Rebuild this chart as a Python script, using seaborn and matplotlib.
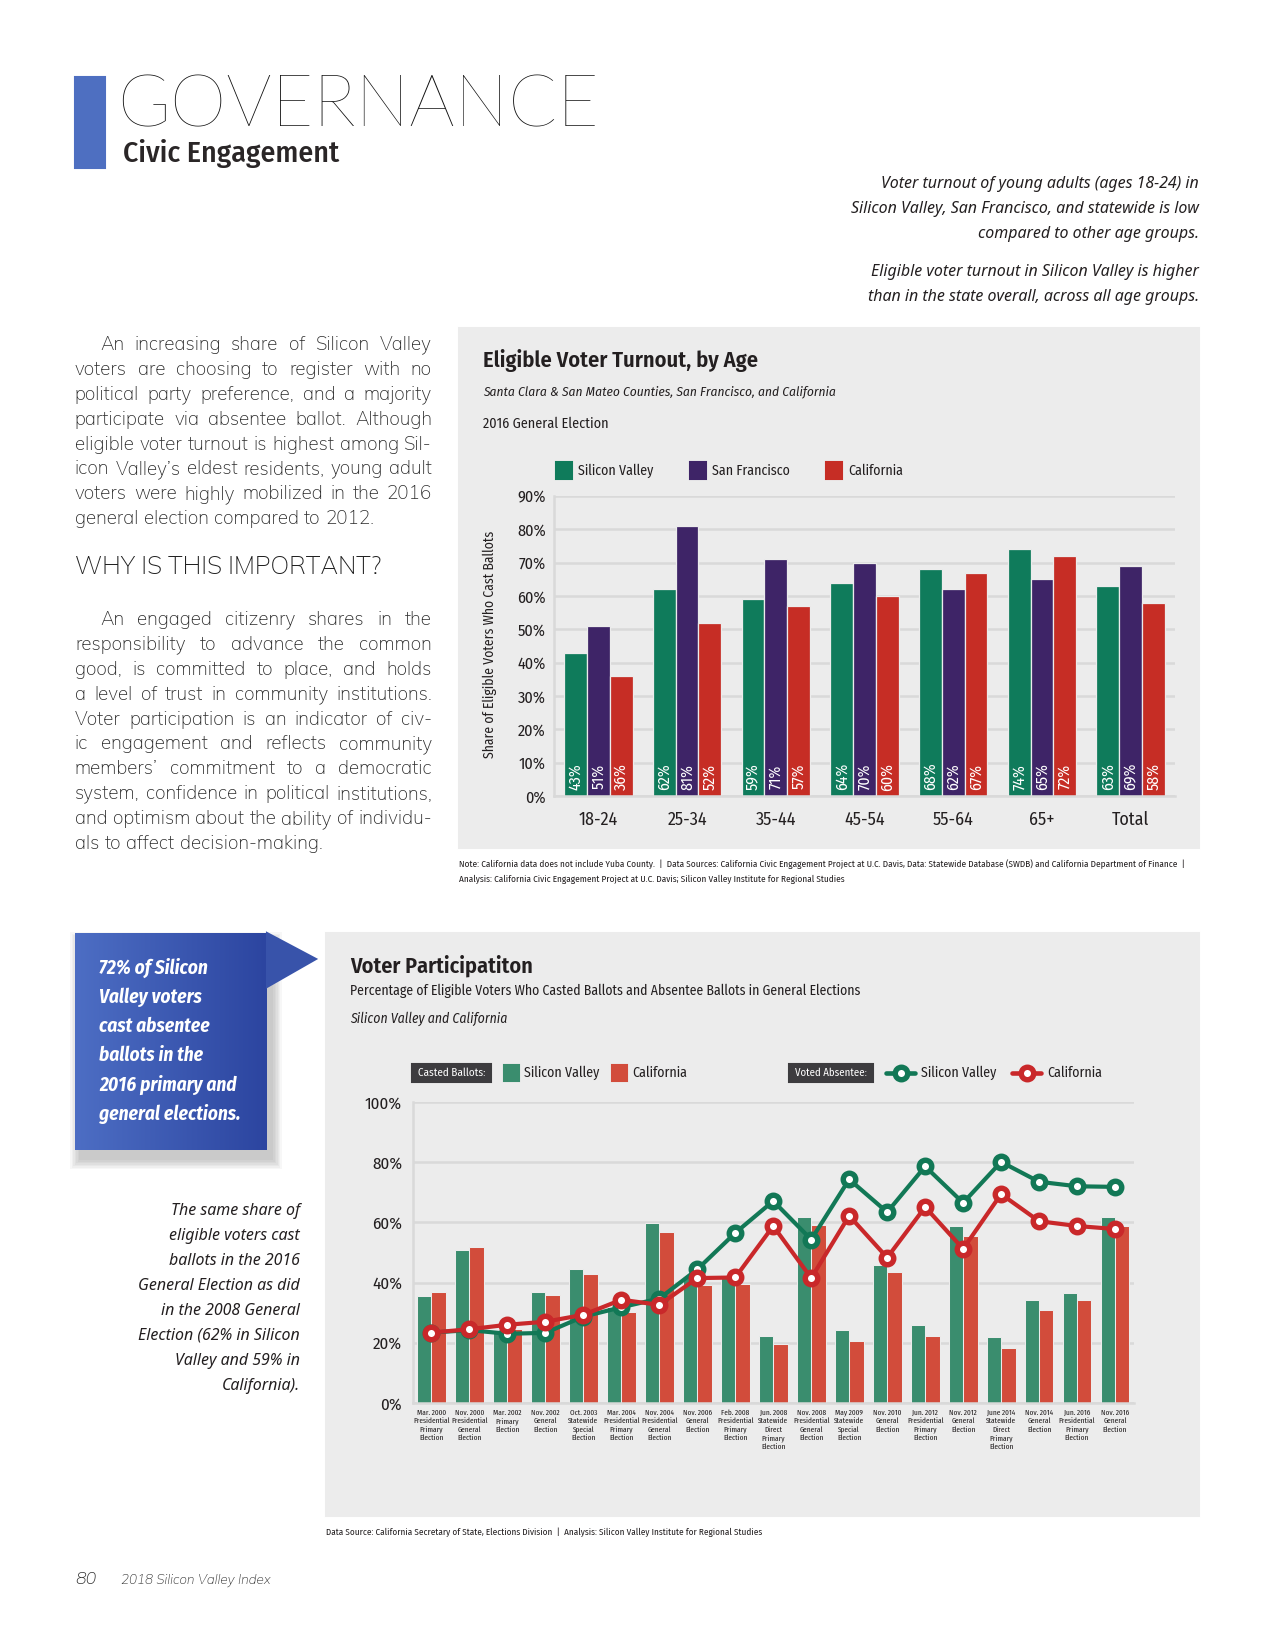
import numpy as np
import pandas as pd
import seaborn as sns
import matplotlib.pyplot as plt
from matplotlib.patches import Rectangle, Polygon
from matplotlib.lines import Line2D

# --- page geometry (pixels of the final 1275x1650 image) ---
W, H = 1275, 1650
DPI = 150

# --- data: eligible voter turnout by age, 2016 general election ---
age_groups = ["18-24", "25-34", "35-44", "45-54", "55-64", "65+", "Total"]
turnout_sv = [43, 62, 59, 64, 68, 74, 63]
turnout_sf = [51, 81, 71, 70, 62, 65, 69]
turnout_ca = [36, 52, 57, 60, 67, 72, 58]

# --- data: voter participation, casted vs absentee ---
elections = [
    "Mar. 2000\nPresidential\nPrimary\nElection",
    "Nov. 2000\nPresidential\nGeneral\nElection",
    "Mar. 2002\nPrimary\nElection",
    "Nov. 2002\nGeneral\nElection",
    "Oct. 2003\nStatewide\nSpecial\nElection",
    "Mar. 2004\nPresidential\nPrimary\nElection",
    "Nov. 2004\nPresidential\nGeneral\nElection",
    "Nov. 2006\nGeneral\nElection",
    "Feb. 2008\nPresidential\nPrimary\nElection",
    "Jun. 2008\nStatewide\nDirect\nPrimary\nElection",
    "Nov. 2008\nPresidential\nGeneral\nElection",
    "May 2009\nStatewide\nSpecial\nElection",
    "Nov. 2010\nGeneral\nElection",
    "Jun. 2012\nPresidential\nPrimary\nElection",
    "Nov. 2012\nGeneral\nElection",
    "June 2014\nStatewide\nDirect\nPrimary\nElection",
    "Nov. 2014\nGeneral\nElection",
    "Jun. 2016\nPresidential\nPrimary\nElection",
    "Nov. 2016\nGeneral\nElection",
]
cast_sv = [35.4, 50.8, 24.0, 36.9, 44.5, 32.0, 59.8, 42.2, 42.5, 22.3, 61.8,
           24.3, 45.9, 26.0, 58.8, 22.0, 34.3, 36.6, 61.8]
cast_ca = [36.9, 51.8, 24.5, 35.9, 42.9, 30.3, 56.8, 39.2, 39.6, 19.7, 59.1,
           20.7, 43.5, 22.3, 55.5, 18.3, 30.9, 34.3, 58.8]
absentee_sv = [23.4, 24.2, 23.0, 23.3, 28.7, 31.8, 34.7, 44.4, 56.5, 67.1, 54.3,
               74.3, 63.4, 78.6, 66.5, 80.1, 73.5, 72.0, 71.8]
absentee_ca = [23.4, 24.5, 26.0, 27.0, 29.3, 34.3, 32.6, 41.5, 41.7, 58.8, 41.5,
               62.2, 48.3, 65.1, 51.2, 69.4, 60.4, 58.8, 57.8]

# --- styles ---
sns.set_theme(style="white")
NARROW = ["Fira Sans Condensed", "Barlow Condensed", "DejaVu Sans"]
XNARROW = ["Fira Sans Extra Condensed", "Barlow Condensed", "DejaVu Sans"]
BODY = ["Mulish", "Lato", "DejaVu Sans"]
THIN = ["Lato", "DejaVu Sans"]
HUMAN = ["Noto Sans", "DejaVu Sans"]
plt.rcParams["font.family"] = NARROW

PANEL = "#ececec"
DARK = "#231f20"
GRID = "#d9d9d9"
C_SV, C_SF, C_CA = "#0f7b5b", "#3e2467", "#c62d25"
B_SV, B_CA = "#3a8d6e", "#d24c3b"
L_SV, L_CA = "#127856", "#c9282a"


def fx(x):
    return x / W


def fy(y):
    return 1 - y / H


def rect(x0, y0, x1, y1):
    return [fx(x0), fy(y1), (x1 - x0) / W, (y1 - y0) / H]


fig = plt.figure(figsize=(W / DPI, H / DPI), dpi=DPI, facecolor="white")
renderer = fig.canvas.get_renderer()


def txt(x, y, s, **kw):
    kw.setdefault("color", DARK)
    kw.setdefault("va", "center")
    return fig.text(fx(x), fy(y), s, **kw)


def fit(t, width):
    # scale the font so the (unrotated) text spans the width
    w = t.get_window_extent(renderer).width
    t.set_fontsize(t.get_fontsize() * width / w)
    return t.get_fontsize()


def justified(lines, x0, x1, y0, step, size, indent=0):
    space = 0.28 * size * DPI / 72
    for i, line in enumerate(lines):
        words = line.split()
        left = x0 + (indent if i == 0 else 0)
        arts = [txt(0, y0 + i * step, w, fontsize=size, family=BODY,
                    fontweight=400, color="#2e2e2e") for w in words]
        widths = [a.get_window_extent(renderer).width for a in arts]
        gap = space
        if i < len(lines) - 1 and len(words) > 1:
            gap = (x1 - left - sum(widths)) / (len(words) - 1)
        x = left
        for a, w in zip(arts, widths):
            a.set_x(fx(x))
            x += w + gap


# --- header ---
fig.patches.append(Rectangle((fx(75), fy(168)), 30 / W, 91 / H,
                             transform=fig.transFigure, color="#4e6fc1"))
t = txt(117, 107, "GOVERNANCE", fontsize=36, family=THIN, fontweight="light",
        color="#111111")
fit(t, 483)
t = txt(123, 153, "Civic Engagement", fontsize=15, fontweight=500, color="#2a2627")
fit(t, 216)

notes = ["Voter turnout of young adults (ages 18-24) in",
         "Silicon Valley, San Francisco, and statewide is low",
         "compared to other age groups.",
         "Eligible voter turnout in Silicon Valley is higher",
         "than in the state overall, across all age groups."]
probe = txt(0, 0, notes[1], fontsize=8, family=HUMAN, style="italic", fontweight="medium")
note_fs = fit(probe, 348)
probe.remove()
for i, s in enumerate(notes):
    y = 184 + i * 25 + (13 if i > 2 else 0)
    txt(1199, y, s, fontsize=note_fs, family=HUMAN, style="italic",
        fontweight="medium", ha="right")

# --- left column text ---
para1 = ["An increasing share of Silicon Valley",
         "voters are choosing to register with no",
         "political party preference, and a majority",
         "participate via absentee ballot. Although",
         "eligible voter turnout is highest among Sil-",
         "icon Valley\u2019s eldest residents, young adult",
         "voters were highly mobilized in the 2016",
         "general election compared to 2012."]
para2 = ["An engaged citizenry shares in the",
         "responsibility to advance the common",
         "good, is committed to place, and holds",
         "a level of trust in community institutions.",
         "Voter participation is an indicator of civ-",
         "ic engagement and reflects community",
         "members\u2019 commitment to a democratic",
         "system, confidence in political institutions,",
         "and optimism about the ability of individu-",
         "als to affect decision-making."]
probe = txt(0, 0, para2[7], fontsize=9, family=BODY, fontweight=400)
body_fs = fit(probe, 350)
probe.remove()
justified(para1, 75, 432, 345, 24.9, body_fs, indent=25)
t = txt(75, 567, "WHY IS THIS IMPORTANT?", fontsize=12, family=BODY, fontweight=500,
        color="#222222")
fit(t, 306)
justified(para2, 75, 432, 620, 24.9, body_fs, indent=25)

# --- top chart: eligible voter turnout by age ---
fig.patches.append(Rectangle((fx(459), fy(848)), (1199 - 459) / W, (848 - 328) / H,
                             transform=fig.transFigure, color=PANEL, zorder=-1))
t = txt(483, 360, "Eligible Voter Turnout, by Age", fontsize=11, fontweight=600)
fit(t, 274)
t = txt(483, 392, "Santa Clara & San Mateo Counties, San Francisco, and California",
        fontsize=8.5, style="italic")
fit(t, 353)
t = txt(483, 424, "2016 General Election", fontsize=8.5)
fit(t, 125)

top = pd.DataFrame({
    "age": age_groups * 3,
    "value": turnout_sv + turnout_sf + turnout_ca,
    "region": ["Silicon Valley"] * 7 + ["San Francisco"] * 7 + ["California"] * 7,
})
ax1 = fig.add_axes(rect(554, 496, 1175, 796))
ax1.set_facecolor("none")
sns.barplot(data=top, x="age", y="value", hue="region", ax=ax1, width=0.77,
            palette=[C_SV, C_SF, C_CA], edgecolor=PANEL, linewidth=0.6,
            saturation=1, legend=False, zorder=2)
for cont in ax1.containers:
    for bar, v in zip(cont, cont.datavalues):
        ax1.text(bar.get_x() + bar.get_width() / 2, 5.8, f"{v:.0f}%", rotation=90,
                 ha="center", va="center", color="white", fontsize=7.6, zorder=3)
ax1.set_ylim(0, 90)
ax1.set_yticks(range(0, 91, 10))
ax1.set_yticklabels([f"{t}%" for t in range(0, 91, 10)], fontsize=7.8, color=DARK)
ax1.tick_params(axis="x", labelsize=8.6, colors=DARK, pad=7, length=0)
ax1.tick_params(axis="y", pad=4, length=0)
ax1.grid(axis="y", color=GRID, linewidth=1.2, zorder=0)
ax1.set_axisbelow(True)
ax1.set_xlabel("")
ax1.set_ylabel("")
for side in ["top", "right"]:
    ax1.spines[side].set_visible(False)
for side in ["left", "bottom"]:
    ax1.spines[side].set_color(GRID)
    ax1.spines[side].set_linewidth(1.2)
t = txt(490, 644, "Share of Eligible Voters Who Cast Ballots", fontsize=8, ha="center")
fit(t, 229)
t.set_rotation(90)

for (x0, lab, col) in [(556, "Silicon Valley", C_SV), (690, "San Francisco", C_SF),
                       (826, "California", C_CA)]:
    fig.patches.append(Rectangle((fx(x0), fy(479)), 16 / W, 17 / H,
                                 transform=fig.transFigure, color=col))
    t = txt(x0 + 22, 471, lab, fontsize=8.5)
    if lab == "Silicon Valley":
        leg_fs = fit(t, 76)
    else:
        t.set_fontsize(leg_fs)

t = txt(459, 864, "Note: California data does not include Yuba County.  |  Data Sources: "
        "California Civic Engagement Project at U.C. Davis, Data: Statewide Database (SWDB) "
        "and California Department of Finance  |", fontsize=5.4)
src_fs = fit(t, 727)
txt(459, 879, "Analysis: California Civic Engagement Project at U.C. Davis; "
    "Silicon Valley Institute for Regional Studies", fontsize=src_fs)

# --- callout box ---
for k in range(7):
    g = 2 + 3 * k
    fig.patches.append(Rectangle((fx(75 + 5 - g / 2), fy(1150 + 9 + g / 2)),
                                 (192 + g) / W, (217 + g) / H, transform=fig.transFigure,
                                 color="black", alpha=0.03, zorder=-1, linewidth=0))
axc = fig.add_axes(rect(75, 933, 267, 1150))
grad = np.linspace(0, 1, 256).reshape(1, -1)
axc.imshow(grad, aspect="auto",
           cmap=sns.blend_palette(["#4d6ec4", "#2c45a0"], as_cmap=True))
axc.axis("off")
fig.patches.append(Polygon([(fx(267), fy(933)), (fx(316), fy(959)), (fx(267), fy(987))],
                           closed=True, transform=fig.transFigure, color="#3853aa"))
callout = ["72% of Silicon", "Valley voters", "cast absentee", "ballots in the",
           "2016 primary and", "general elections."]
probe = txt(0, 0, callout[4], fontsize=10, fontweight="bold", style="italic")
call_fs = fit(probe, 138)
probe.remove()
for i, s in enumerate(callout):
    txt(99, 968 + i * 29.2, s, fontsize=call_fs, fontweight="bold", style="italic",
        color="white")

same_share = ["The same share of", "eligible voters cast", "ballots in the 2016",
              "General Election as did", "in the 2008 General",
              "Election (62% in Silicon", "Valley and 59% in", "California)."]
for i, s in enumerate(same_share):
    txt(300, 1211 + i * 25, s, fontsize=note_fs, family=HUMAN, style="italic",
        fontweight="medium", ha="right")

# --- bottom chart: voter participation ---
fig.patches.append(Rectangle((fx(326), fy(1516)), (1199 - 326) / W, (1516 - 933) / H,
                             transform=fig.transFigure, color=PANEL, zorder=-1))
t = txt(350, 966, "Voter Participatiton", fontsize=11, fontweight=600)
fit(t, 182)
t = txt(350, 991, "Percentage of Eligible Voters Who Casted Ballots and Absentee Ballots "
        "in General Elections", fontsize=8.3)
sub_fs = fit(t, 514)
t = txt(350, 1019, "Silicon Valley and California", fontsize=sub_fs, style="italic")

n = len(elections)
bars = pd.DataFrame({
    "election": elections * 2,
    "value": cast_sv + cast_ca,
    "region": ["Silicon Valley"] * n + ["California"] * n,
})
ax2 = fig.add_axes(rect(412.5, 1102, 1134, 1403))
ax2.set_facecolor("none")
sns.barplot(data=bars, x="election", y="value", hue="region", ax=ax2, width=0.76,
            palette=[B_SV, B_CA], edgecolor=PANEL, linewidth=0.5, saturation=1,
            legend=False, zorder=2)
lines = pd.DataFrame({
    "pos": list(range(n)) * 2,
    "value": absentee_sv + absentee_ca,
    "region": ["Silicon Valley"] * n + ["California"] * n,
})
for reg, col, z in [("Silicon Valley", L_SV, 4), ("California", L_CA, 5)]:
    sns.lineplot(data=lines[lines.region == reg], x="pos", y="value", ax=ax2,
                 color=col, linewidth=2.0, marker="o", markersize=6,
                 markerfacecolor="white", markeredgecolor=col, markeredgewidth=2.6,
                 zorder=z)
ax2.set_xlim(-0.5, n - 0.5)
ax2.set_ylim(0, 100)
ax2.set_yticks(range(0, 101, 20))
ax2.set_yticklabels([f"{t}%" for t in range(0, 101, 20)], fontsize=8.2, color=DARK)
ax2.set_xticks(range(n))
probe = txt(0, 0, "Presidential", fontsize=6, family=XNARROW)
tick_fs = fit(probe, 36)
probe.remove()
ax2.set_xticklabels(elections, fontsize=tick_fs, family=XNARROW, color=DARK,
                    linespacing=1.2, va="top")
ax2.tick_params(axis="x", length=0, pad=3)
ax2.tick_params(axis="y", length=0, pad=5)
ax2.grid(axis="y", color=GRID, linewidth=1.2, zorder=0)
ax2.set_axisbelow(True)
ax2.set_xlabel("")
ax2.set_ylabel("")
for side in ["top", "right"]:
    ax2.spines[side].set_visible(False)
for side in ["left", "bottom"]:
    ax2.spines[side].set_color(GRID)
    ax2.spines[side].set_linewidth(1.2)

# legend row
for x0, x1, lab in [(412, 491, "Casted Ballots:"), (789, 873, "Voted Absentee:")]:
    fig.patches.append(Rectangle((fx(x0), fy(1082)), (x1 - x0) / W, 18 / H,
                                 transform=fig.transFigure, color="#3d3c3f"))
    t = txt((x0 + x1) / 2, 1073, lab, fontsize=7, color="white", ha="center")
    fit(t, x1 - x0 - 12)
for x0, lab, col in [(504, "Silicon Valley", B_SV), (612, "California", B_CA)]:
    fig.patches.append(Rectangle((fx(x0), fy(1081)), 15 / W, 16 / H,
                                 transform=fig.transFigure, color=col))
    txt(x0 + 20, 1073, lab, fontsize=leg_fs)
for x0, lab, col in [(886, "Silicon Valley", L_SV), (1012, "California", L_CA)]:
    fig.lines.append(Line2D([fx(x0), fx(x0 + 29)], [fy(1073), fy(1073)],
                            transform=fig.transFigure, color=col, linewidth=2.2))
    fig.lines.append(Line2D([fx(x0 + 14.5)], [fy(1073)], transform=fig.transFigure,
                            marker="o", markersize=6, markerfacecolor="white",
                            markeredgecolor=col, markeredgewidth=2.6))
    txt(x0 + 35, 1073, lab, fontsize=leg_fs)

t = txt(326, 1532, "Data Source: California Secretary of State, Elections Division  |  "
        "Analysis: Silicon Valley Institute for Regional Studies", fontsize=5.4)
fit(t, 432)

# --- footer ---
txt(75, 1580, "80", fontsize=8.5, family=BODY, style="italic", fontweight=200,
    color="#333333")
t = txt(121, 1580, "2018 Silicon Valley Index", fontsize=8.5, family=BODY, style="italic",
        fontweight=200, color="#333333")
fit(t, 150)

fig.savefig("out.png", dpi=DPI, facecolor="white")
